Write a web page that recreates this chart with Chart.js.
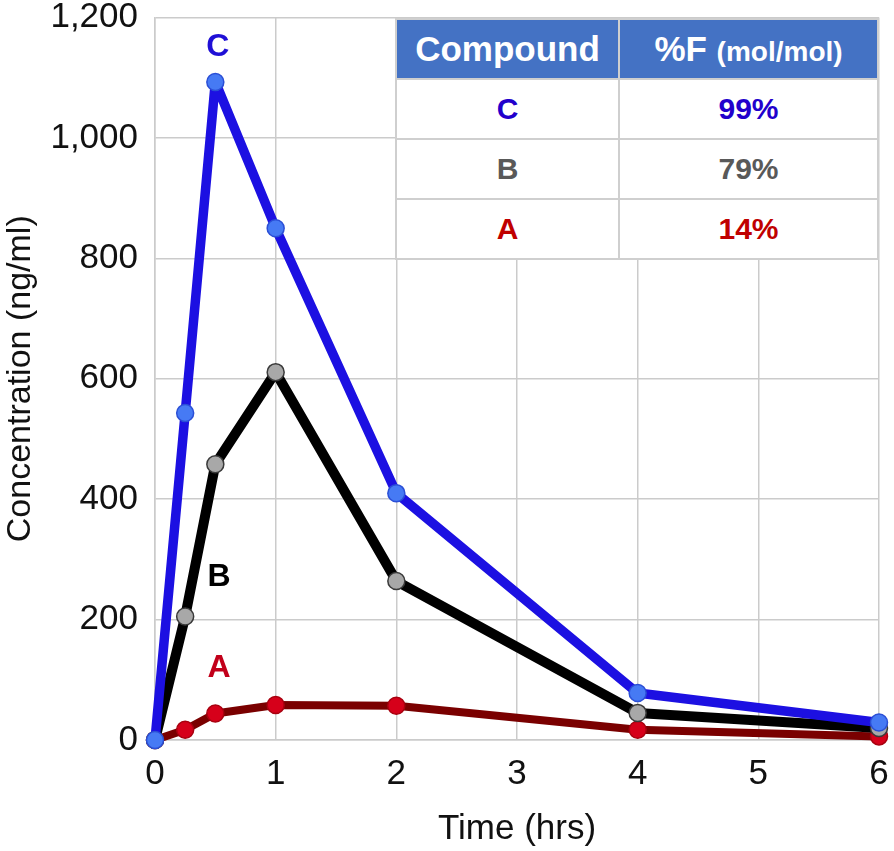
<!DOCTYPE html>
<html>
<head>
<meta charset="utf-8">
<script src="https://cdn.jsdelivr.net/npm/chart.js@4/dist/chart.umd.min.js"></script>
<style>
  html, body { margin: 0; padding: 0; background: #fff; }
  #wrap { position: relative; width: 894px; height: 851px; }
  #chart { position: absolute; left: 0; top: 0; }
  table.fz {
    position: absolute; left: 395px; top: 18px; width: 484px;
    border-collapse: collapse; background: #fff;
    font-family: "Liberation Sans", Arial, sans-serif; font-weight: bold;
  }
  table.fz th, table.fz td {
    border: 2px solid #cfcfcf; text-align: center; padding: 0;
  }
  table.fz th {
    background: #4472c4; color: #fff; height: 58px; font-size: 35px;
  }
  table.fz th small { font-size: 28px; }
  table.fz td { height: 58px; font-size: 30px; }
</style>
</head>
<body>
<div id="wrap">
  <canvas id="chart" width="894" height="851"></canvas>
  <table class="fz" id="ftable"></table>
</div>
<script>
// ── Data ──────────────────────────────────────────────────────────
const times   = [0, 0.25, 0.5, 1, 2, 4, 6];
const concC   = [0, 543, 1093, 850, 410, 78, 29];
const concB   = [0, 205, 458, 611, 264, 45, 20];
const concA   = [0, 17, 44, 58, 57, 17, 6];
const xTicks  = [0, 1, 2, 3, 4, 5, 6];
const yTicks  = [0, 200, 400, 600, 800, 1000, 1200];
const yTickLabels = ['0', '200', '400', '600', '800', '1,000', '1,200'];

const tableHead     = ['Compound', '%F', '(mol/mol)'];
const tableCompound = ['C', 'B', 'A'];
const tableF        = ['99%', '79%', '14%'];

const FONT = "'Liberation Sans', Arial, sans-serif";
const COL = {
  C: { line: '#1c10e2', fill: '#467af4', edge: '#2b4fd6', text: '#1f0fd6', table: '#2200cc' },
  B: { line: '#000000', fill: '#a8a8a8', edge: '#3a3a3a', text: '#000000', table: '#595959' },
  A: { line: '#7a0000', fill: '#d6001a', edge: '#a8000f', text: '#c2001a', table: '#c00000' },
};

// series label anchor (in data units) for the letters inside the plot
const seriesLabels = [
  { key: 'C', x: 0.52, y: 1150 },
  { key: 'B', x: 0.53, y: 271 },
  { key: 'A', x: 0.53, y: 120 },
];

// ── Table ─────────────────────────────────────────────────────────
function buildTable() {
  const t = document.getElementById('ftable');
  let html = `<tr><th style="width:221px">${tableHead[0]}</th>` +
             `<th>${tableHead[1]} <small>${tableHead[2]}</small></th></tr>`;
  tableCompound.forEach((c, i) => {
    const col = COL[c].table;
    html += `<tr><td style="color:${col}">${c}</td><td style="color:${col}">${tableF[i]}</td></tr>`;
  });
  t.innerHTML = html;
}
buildTable();

// ── Chart ─────────────────────────────────────────────────────────
function series(key, values, lw) {
  return {
    label: key,
    data: times.map((t, i) => ({ x: t, y: values[i] })),
    borderColor: COL[key].line,
    borderWidth: lw,
    borderJoinStyle: 'round',
    borderCapStyle: 'round',
    pointRadius: 8.5,
    pointBorderWidth: 1.5,
    pointBackgroundColor: COL[key].fill,
    pointBorderColor: COL[key].edge,
    tension: 0,
    clip: false,
  };
}

const letterPlugin = {
  id: 'letters',
  afterDatasetsDraw(chart) {
    const { ctx, scales: { x, y } } = chart;
    ctx.save();
    ctx.font = `bold 32px ${FONT}`;
    ctx.textAlign = 'center';
    ctx.textBaseline = 'middle';
    seriesLabels.forEach(l => {
      ctx.fillStyle = COL[l.key].text;
      ctx.fillText(l.key, x.getPixelForValue(l.x), y.getPixelForValue(l.y));
    });
    ctx.restore();
  }
};

const gridColor = '#cbcbcb';

new Chart(document.getElementById('chart'), {
  type: 'line',
  data: {
    datasets: [
      series('C', concC, 9.5),
      series('B', concB, 10),
      series('A', concA, 8),
    ]
  },
  options: {
    responsive: false,
    animation: false,
    layout: { padding: { top: 17.5, right: 15, left: 0, bottom: 0 } },
    plugins: { legend: { display: false }, tooltip: { enabled: false } },
    scales: {
      x: {
        type: 'linear', min: 0, max: 6,
        afterBuildTicks: s => { s.ticks = xTicks.map(v => ({ value: v })); },
        afterFit: s => { s.height = 111; s.paddingLeft = 0; s.paddingRight = 0; },
        grid: { color: gridColor, lineWidth: 1.5, drawTicks: false },
        border: { color: gridColor, width: 1.5 },
        ticks: { color: '#111', font: { family: FONT, size: 35 }, padding: 13, maxRotation: 0 },
        title: { display: true, text: 'Time (hrs)', color: '#111',
                 font: { family: FONT, size: 35 }, padding: { top: 0, bottom: 1 } },
      },
      y: {
        type: 'linear', min: 0, max: 1200,
        afterBuildTicks: s => { s.ticks = yTicks.map(v => ({ value: v })); },
        afterFit: s => { s.width = 155; s.paddingTop = 0; s.paddingBottom = 0; },
        grid: { color: gridColor, lineWidth: 1.5, drawTicks: false },
        border: { color: gridColor, width: 1.5 },
        ticks: { color: '#111', font: { family: FONT, size: 35, lineHeight: 1 }, padding: 17,
                 callback: v => yTickLabels[yTicks.indexOf(v)] },
        title: { display: true, text: 'Concentration (ng/ml)', color: '#111',
                 font: { family: FONT, size: 34 }, padding: { top: 0, bottom: 0 } },
      }
    }
  },
  plugins: [letterPlugin]
});
</script>
</body>
</html>
